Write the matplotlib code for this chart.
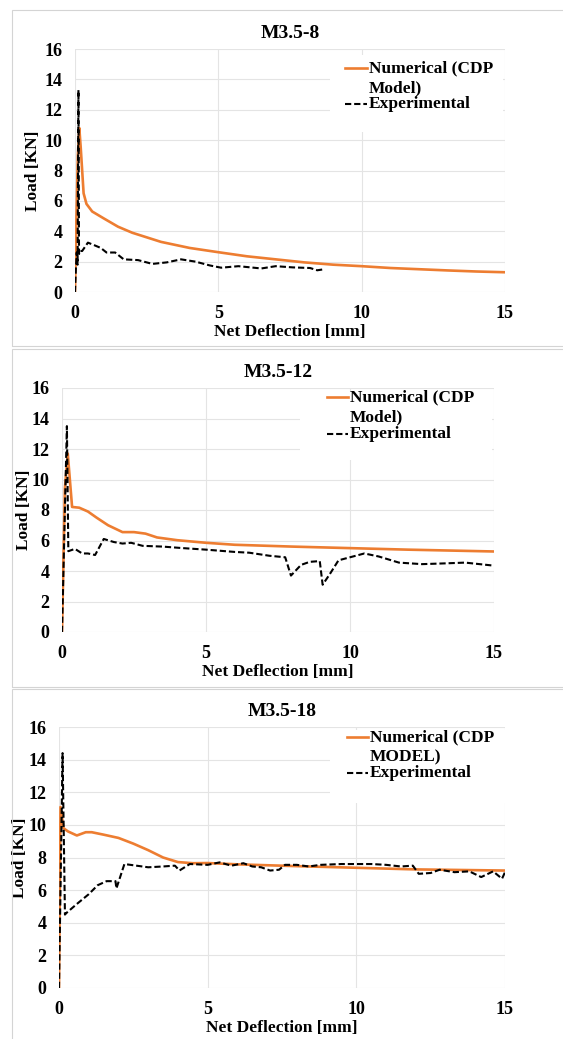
import matplotlib
matplotlib.use('Agg')
import matplotlib.pyplot as plt
from matplotlib.patches import Rectangle
from matplotlib.lines import Line2D

plt.rcParams['font.family'] = 'Liberation Serif'
plt.rcParams['font.weight'] = 'bold'

## M3.5-8
num8_x = [0, 0.05, 0.1, 0.15, 0.2, 0.3, 0.4, 0.6, 1, 1.5, 2, 3, 4, 5, 6, 7, 8, 9, 10, 11, 12, 13, 14, 15]
num8_y = [0, 5.0, 9.0, 10.8, 9.5, 6.5, 5.8, 5.3, 4.85, 4.3, 3.9, 3.3, 2.9, 2.62, 2.35, 2.15, 1.95, 1.8, 1.7, 1.58, 1.5, 1.42, 1.35, 1.3]
exp8_x = [0, 0.03, 0.06, 0.09, 0.12, 0.14, 0.17, 0.25, 0.45, 0.65, 0.9, 1.1, 1.4, 1.7, 2.2, 2.7, 3.2, 3.7, 4.2, 4.7, 5.1, 5.7, 6.5, 7.0, 7.6, 8.2, 8.45, 8.7]
exp8_y = [0, 1.5, 2.6, 1.8, 13.3, 2.5, 2.7, 2.7, 3.25, 3.1, 2.9, 2.6, 2.6, 2.15, 2.1, 1.85, 1.95, 2.15, 2.0, 1.75, 1.6, 1.7, 1.55, 1.7, 1.62, 1.58, 1.43, 1.5]

## M3.5-12
num12_x = [0, 0.1, 0.2, 0.35, 0.6, 0.9, 1.2, 1.6, 2.1, 2.5, 2.9, 3.3, 4, 5, 6, 8, 10, 12, 15]
num12_y = [0, 9.4, 11.7, 8.2, 8.15, 7.9, 7.5, 7.0, 6.55, 6.55, 6.45, 6.2, 6.02, 5.85, 5.72, 5.6, 5.5, 5.4, 5.28]
exp12_x = [0, 0.17, 0.22, 0.45, 0.7, 0.9, 1.15, 1.45, 1.8, 2.1, 2.4, 2.8, 3.5, 4.2, 5, 6, 6.5, 7.2, 7.75, 7.95, 8.3, 8.6, 8.95, 9.05, 9.3, 9.6, 10, 10.5, 11, 11.7, 12.5, 13.3, 14, 15]
exp12_y = [0, 13.5, 5.3, 5.45, 5.15, 5.15, 5.05, 6.1, 5.9, 5.8, 5.85, 5.65, 5.6, 5.5, 5.4, 5.25, 5.2, 5.0, 4.9, 3.7, 4.4, 4.6, 4.65, 3.1, 3.8, 4.7, 4.9, 5.15, 4.95, 4.55, 4.45, 4.5, 4.55, 4.35]

## M3.5-18
num18_x = [0, 0.05, 0.15, 0.3, 0.6, 0.9, 1.1, 1.5, 2, 2.5, 3, 3.5, 4, 4.5, 5, 6, 8, 10, 12, 15]
num18_y = [0, 11.1, 9.8, 9.6, 9.35, 9.55, 9.55, 9.4, 9.2, 8.85, 8.45, 8.0, 7.72, 7.65, 7.66, 7.58, 7.47, 7.37, 7.27, 7.2]
exp18_x = [0, 0.12, 0.2, 0.25, 0.6, 1.0, 1.3, 1.6, 1.9, 1.93, 2.2, 2.6, 3, 3.5, 3.9, 4.05, 4.4, 5, 5.4, 5.8, 6.2, 6.5, 6.8, 7.1, 7.4, 7.6, 8, 8.4, 8.8, 9.5, 10.5, 11, 11.5, 11.9, 12.1, 12.5, 12.8, 13.3, 13.8, 14.2, 14.6, 14.9, 15]
exp18_y = [0, 14.4, 4.5, 4.6, 5.15, 5.75, 6.3, 6.55, 6.55, 6.1, 7.6, 7.5, 7.4, 7.45, 7.5, 7.2, 7.6, 7.55, 7.7, 7.5, 7.65, 7.45, 7.4, 7.2, 7.25, 7.55, 7.55, 7.45, 7.55, 7.6, 7.6, 7.55, 7.45, 7.5, 7.0, 7.05, 7.25, 7.1, 7.15, 6.8, 7.15, 6.7, 7.1]

xticks = [0, 5, 10, 15]
yticks = [0, 2, 4, 6, 8, 10, 12, 14, 16]

orange = '#ED7D31'
W, H = 563, 1039

panels = [
    dict(title='M3.5-8', nx=num8_x, ny=num8_y, ex=exp8_x, ey=exp8_y, lab='Numerical (CDP', lab2='Model)',
         box=(75, 49, 505, 292), ylx=41, leg=(345, 367, 369, 68, 88, 104), legbox=(330, 55, 503, 132)),
    dict(title='M3.5-12', nx=num12_x, ny=num12_y, ex=exp12_x, ey=exp12_y, lab='Numerical (CDP', lab2='Model)',
         box=(62, 388, 494, 632), ylx=32, leg=(327, 348, 350, 397, 417, 434), legbox=(300, 392, 492, 460)),
    dict(title='M3.5-18', nx=num18_x, ny=num18_y, ex=exp18_x, ey=exp18_y, lab='Numerical (CDP', lab2='MODEL)',
         box=(59, 727, 505, 988), ylx=28, leg=(347, 368, 370, 737, 757, 773), legbox=(330, 730, 505, 803)),
]
frames = [(12, 10, 346), (12, 349, 687), (12, 689, 1045)]

fig = plt.figure(figsize=(W / 100, H / 100), dpi=100)

for (fx, ft, fb) in frames:
    fig.patches.append(Rectangle((fx / W, 1 - fb / H), (W + 10 - fx) / W, (fb - ft) / H,
                                 transform=fig.transFigure, fill=False, ec='#d4d4d4', lw=0.8))

for p in panels:
    l, t, r, b = p['box']
    ax = fig.add_axes([l / W, 1 - b / H, (r - l) / W, (b - t) / H])
    ax.plot(p['nx'], p['ny'], color=orange, lw=1.9, zorder=3)
    ax.plot(p['ex'], p['ey'], color='black', lw=1.5, dashes=(3, 1.4), zorder=4)
    ax.set_xlim(0, 15)
    ax.set_ylim(0, 16)
    ax.set_xticks(xticks)
    ax.set_yticks(yticks)
    ax.grid(True, color='#e4e4e4', lw=0.8)
    ax.set_axisbelow(True)
    for s in ax.spines.values():
        s.set_visible(False)
    ax.tick_params(length=0, labelsize=13, pad=9)
    ax.set_xlabel('Net Deflection [mm]', fontsize=12.5, fontweight='bold', labelpad=2)
    ax.set_ylabel('Load [KN]', fontsize=12.5, fontweight='bold')
    ax.yaxis.set_label_coords((p['ylx'] - l) / (r - l), 0.5)
    ax.set_title(p['title'], fontsize=14, fontweight='bold', pad=8)

    # legend drawn by hand (white box over the grid)
    def ax_x(px):
        return (px - l) / (r - l)

    def ax_y(py):
        return (b - py) / (b - t)

    x0, x1, xt, y1, y2, y3 = p['leg']
    bx0, by0, bx1, by1 = p['legbox']
    ax.add_patch(Rectangle((ax_x(bx0), ax_y(by1)), ax_x(bx1) - ax_x(bx0), ax_y(by0) - ax_y(by1),
                           transform=ax.transAxes, fc='white', ec='none', zorder=2, clip_on=False))
    ax.add_line(Line2D([ax_x(x0), ax_x(x1)], [ax_y(y1)] * 2, transform=ax.transAxes,
                       color=orange, lw=1.9, zorder=5, clip_on=False))
    ax.add_line(Line2D([ax_x(x0), ax_x(x1)], [ax_y(y3)] * 2, transform=ax.transAxes,
                       color='black', lw=1.5, dashes=(3, 1.4), zorder=5, clip_on=False))
    for txt, yy in [(p['lab'], y1), (p['lab2'], y2), ('Experimental', y3)]:
        ax.text(ax_x(xt), ax_y(yy), txt, transform=ax.transAxes, fontsize=12.5, fontweight='bold',
                ha='left', va='center', zorder=5)

plt.savefig('out.png', dpi=100)
